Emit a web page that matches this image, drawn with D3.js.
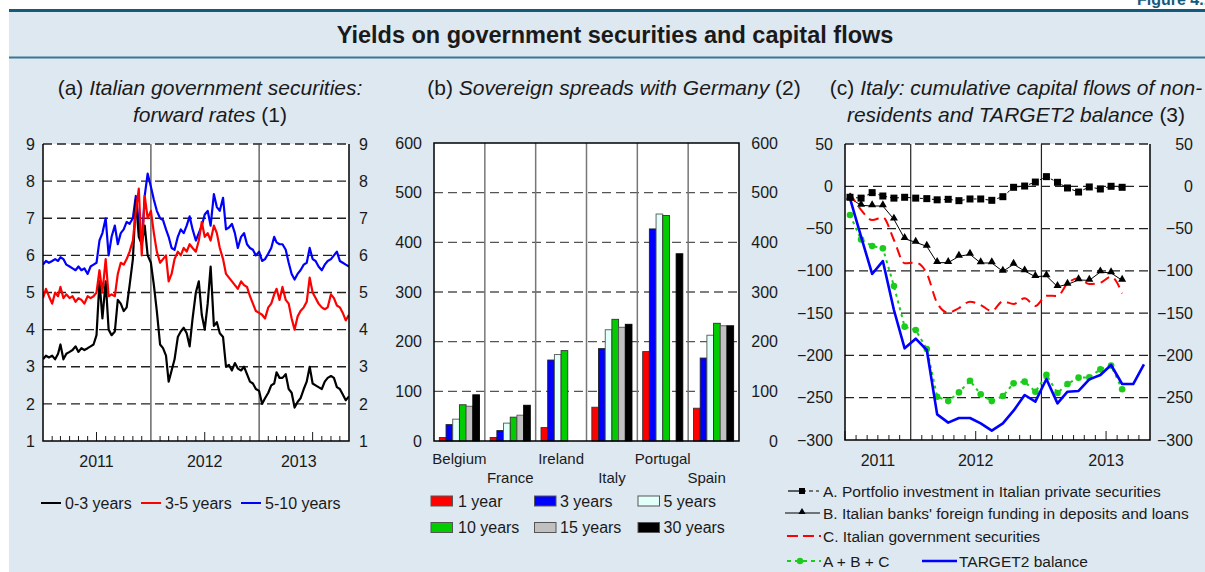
<!DOCTYPE html>
<html>
<head>
<meta charset="utf-8">
<script src="https://cdn.jsdelivr.net/npm/d3@7"></script>
<style>
  body { margin: 0; background: #fff; }
  svg { display: block; font-family: "Liberation Sans", Arial, Helvetica, sans-serif; }
</style>
</head>
<body>
<svg id="chart" width="1205" height="572"></svg>
<script>
// ---------- (a) forward rates: three readings a month, Jan 2011 – Nov 2013 ----------
const rates0to3 = [
  3.2, 3.3, 3.25, 3.3, 3.2, 3.35, 3.6, 3.2, 3.35, 3.4, 3.45, 3.55,
  3.4, 3.5, 3.45, 3.5, 3.55, 3.6, 3.85, 5.3, 4.3, 5.3, 4.0, 3.85,
  3.95, 4.8, 4.7, 4.5, 4.6, 5.2, 5.9, 7.5, 6.5, 6.3, 6.8, 6.0,
  5.8, 5.2, 4.5, 3.6, 3.5, 3.3, 2.6, 2.9, 3.2, 3.8, 3.95, 4.05,
  3.9, 3.55, 4.3, 5.0, 5.3, 4.4, 4.0, 4.7, 5.7, 4.1, 4.2, 3.9,
  3.8, 3.0, 3.05, 2.9, 3.1, 2.95, 2.9, 3.0, 2.8, 2.6, 2.55, 2.4,
  2.35, 2.0, 2.15, 2.3, 2.5, 2.55, 2.85, 2.7, 2.7, 2.8, 2.4, 2.3,
  1.9, 2.05, 2.15, 2.4, 2.6, 3.0, 2.55, 2.5, 2.45, 2.4, 2.6, 2.7,
  2.75, 2.7, 2.45, 2.4, 2.25, 2.1, 2.2
];
const rates3to5 = [
  4.85, 5.1, 4.9, 4.7, 5.0, 4.9, 5.15, 4.85, 4.95, 4.85, 4.9, 4.75,
  4.85, 4.8, 4.7, 4.9, 4.85, 4.9, 5.0, 5.6, 5.0, 5.9, 4.9, 4.95,
  4.9, 5.5, 5.8, 5.75, 5.9, 6.1, 6.4, 7.2, 7.8, 6.0, 7.6, 7.0,
  7.2, 6.6, 6.1, 5.8, 5.9, 6.0, 5.3, 5.5, 5.9, 6.1, 6.0, 6.2,
  6.1, 6.3, 6.2, 6.1, 6.4, 6.9, 6.5, 6.6, 6.4, 6.8, 6.6, 6.2,
  5.9, 5.5, 5.4, 5.3, 5.2, 5.1, 5.3, 5.2, 5.15, 4.9, 4.7, 4.5,
  4.45, 4.4, 4.3, 4.6, 4.7, 4.95, 5.1, 4.8, 5.15, 4.8, 4.7, 4.3,
  4.0, 4.35, 4.5, 4.6, 4.75, 5.4, 5.0, 4.85, 4.7, 4.6, 4.55, 4.6,
  4.95, 4.85, 4.65, 4.6, 4.45, 4.25, 4.4
];
const rates5to10 = [
  5.75, 5.85, 5.8, 5.85, 5.9, 5.85, 5.95, 5.9, 5.75, 5.7, 5.65, 5.6,
  5.7, 5.6, 5.65, 5.5, 5.7, 5.75, 5.8, 6.4, 6.6, 7.0, 6.0, 6.5,
  6.8, 6.3, 6.6, 6.7, 6.9, 6.85, 7.0, 7.6, 6.9, 6.3, 7.6, 8.2,
  7.85, 7.5, 7.2, 7.0, 6.95, 6.7, 6.5, 6.2, 6.15, 6.5, 6.7, 6.6,
  6.8, 7.05, 6.7, 6.4, 6.6, 6.8, 7.1, 7.2, 6.8, 7.65, 7.3, 7.2,
  7.55, 6.7, 6.75, 6.85, 6.6, 6.2, 6.5, 6.6, 6.3, 6.2, 6.15, 6.0,
  6.1, 5.85, 5.9, 6.05, 6.2, 6.5, 6.35, 6.3, 6.3, 6.15, 5.8, 5.5,
  5.35, 5.5, 5.6, 5.75, 5.8, 6.2, 5.9, 5.85, 5.7, 5.6, 5.75, 5.85,
  5.9, 6.0, 6.1, 5.85, 5.8, 5.75, 5.7
];
const rateTicks = [1, 2, 3, 4, 5, 6, 7, 8, 9];
const rateLegend = ["0-3 years", "3-5 years", "5-10 years"];

// ---------- (b) sovereign spreads with Germany (basis points) ----------
const countries = ["Belgium", "France", "Ireland", "Italy", "Portugal", "Spain"];
const maturities = ["1 year", "3 years", "5 years", "10 years", "15 years", "30 years"];
const spread1y  = [7, 7, 27, 68, 180, 66];
const spread3y  = [33, 21, 163, 186, 427, 167];
const spread5y  = [44, 36, 174, 224, 457, 213];
const spread10y = [73, 48, 182, 245, 454, 237];
const spread15y = [70, 52, null, 229, null, 232];
const spread30y = [93, 72, null, 235, 377, 232];
const spreadTicks = [0, 100, 200, 300, 400, 500, 600];

// ---------- (c) cumulative capital flows of non-residents (billions of euros) ----------
const flowMonths = [
  "2011-07", "2011-08", "2011-09", "2011-10", "2011-11", "2011-12",
  "2012-01", "2012-02", "2012-03", "2012-04", "2012-05", "2012-06",
  "2012-07", "2012-08", "2012-09", "2012-10", "2012-11", "2012-12",
  "2013-01", "2013-02", "2013-03", "2013-04", "2013-05", "2013-06",
  "2013-07", "2013-08", "2013-09", "2013-10"
];
const portfolioA = [-13, -14, -7.5, -11.5, -14, -13, -14, -14.6, -16, -15.4, -17, -15, -15,
  -16.6, -12.3, -1.2, 0.3, 5, 11.4, 4.7, -2, -6.8, -0.8, -3.2, 0, -1.2];
const banksB = [-14, -22.5, -23.3, -23.3, -39, -62, -66.3, -71, -90.3, -90.3, -82.8, -80.5, -90.7,
  -90.7, -100.6, -92.3, -100.2, -106.9, -106, -118.7, -116, -110.8, -111.2, -101.4, -102.5, -111.2];
const govtC = [-8.3, -28, -40, -36.7, -63.5, -91, -90.3, -103, -138, -149.4, -144, -136.4, -140.4,
  -147.5, -136, -139.2, -132.5, -141.6, -129.3, -129.7, -114.8, -108.8, -115.6, -114, -106.9, -126.6];
const sumABC = [-34, -63, -70.6, -73.4, -118, -166, -170, -192.4, -248.8, -254, -243.7, -230, -246,
  -254, -248, -233, -231, -243, -223, -244.4, -233.8, -226.3, -226, -216.5, -212, -240];
const target2 = [-14.2, -59.6, -103.7, -88.4, -146.3, -191.6, -180.2, -193.6, -269.7, -279.5, -274, -274,
  -280.3, -289, -280.3, -265.3, -246.8, -254.7, -227.9, -256.7, -242.9, -242, -228.3, -223.2,
  -211.3, -233.8, -233.8, -210.5];
const flowTicks = [-300, -250, -200, -150, -100, -50, 0, 50];

// ---------- shared styling ----------
const ink = "#1a1a1a";
const svg = d3.select("#chart");

svg.append("rect").attr("width", 1205).attr("height", 572).attr("fill", "#fff");
svg.append("rect").attr("x", 9).attr("y", 10).attr("width", 1196).attr("height", 562).attr("fill", "#dde8f1");
svg.append("line").attr("x1", 9).attr("x2", 1205).attr("y1", 10.5).attr("y2", 10.5)
  .attr("stroke", "#135a7b").attr("stroke-width", 3);
svg.append("line").attr("x1", 9).attr("x2", 1205).attr("y1", 57.5).attr("y2", 57.5)
  .attr("stroke", "#3a7696").attr("stroke-width", 2);
svg.append("text").attr("x", 1137).attr("y", 5).attr("font-size", 16).attr("font-weight", "bold")
  .attr("fill", "#135a7b").text("Figure 4.1");
svg.append("text").attr("x", 615).attr("y", 43).attr("text-anchor", "middle")
  .attr("font-size", 23.5).attr("font-weight", "bold").attr("fill", ink)
  .text("Yields on government securities and capital flows");

function titleLine(x, y, parts) {
  const t = svg.append("text").attr("x", x).attr("y", y).attr("text-anchor", "middle")
    .attr("font-size", 21).attr("fill", ink);
  parts.forEach(([s, it]) => t.append("tspan").attr("font-style", it ? "italic" : "normal").text(s));
}
titleLine(210, 95, [["(a) ", false], ["Italian government securities:", true]]);
titleLine(210, 122, [["forward rates", true], [" (1)", false]]);
titleLine(614, 95, [["(b) ", false], ["Sovereign spreads with Germany", true], [" (2)", false]]);
titleLine(1016, 95, [["(c) ", false], ["Italy: cumulative capital flows of non-", true]]);
titleLine(1016, 122, [["residents and TARGET2 balance", true], [" (3)", false]]);

// numeric labels on both sides of a panel
function sideLabels(scale, ticks, xEnd, fmt) {
  svg.append("g").attr("transform", `translate(${xEnd},0)`)
    .call(d3.axisLeft(scale).tickValues(ticks).tickSize(0).tickPadding(0).tickFormat(fmt || d3.format("d")))
    .call(g => g.select(".domain").remove())
    .call(g => g.selectAll("text").attr("font-size", 16).attr("fill", ink)
      .attr("font-family", "Liberation Sans, Arial, sans-serif"));
}

// horizontal dashed grid
function grid(g, scale, ticks, x0, x1, color) {
  g.selectAll(null).data(ticks).join("line")
    .attr("x1", x0).attr("x2", x1)
    .attr("y1", d => scale(d)).attr("y2", d => scale(d))
    .attr("stroke", color).attr("stroke-width", 1.3).attr("stroke-dasharray", "9,5");
}

// monthly tick marks along the bottom edge, longer in July, none where a year line sits
function monthTicks(g, scale, y) {
  const months = d3.timeMonth.range(scale.domain()[0], scale.domain()[1]).filter(d => d.getMonth() !== 0);
  g.selectAll(null).data(months).join("line")
    .attr("x1", d => scale(d)).attr("x2", d => scale(d))
    .attr("y1", y).attr("y2", d => y - (d.getMonth() === 6 ? 9 : 5))
    .attr("stroke", ink).attr("stroke-width", 1);
}

function yearLines(g, scale, years, y0, y1, color) {
  g.selectAll(null).data(years).join("line")
    .attr("x1", d => scale(d)).attr("x2", d => scale(d))
    .attr("y1", y0).attr("y2", y1).attr("stroke", color).attr("stroke-width", 1.2);
}

// ================= Panel (a) =================
{
  const L = 43, R = 349, T = 144, B = 441;
  const rateDates = rates0to3.map((_, i) => new Date(2011, Math.floor(i / 3), 1 + 10 * (i % 3)));
  const x = d3.scaleTime().domain([new Date(2011, 0, 1), new Date(2013, 10, 1)]).range([L, R]);
  const y = d3.scaleLinear().domain([1, 9]).range([B, T]);
  const g = svg.append("g");
  g.append("rect").attr("x", L).attr("y", T).attr("width", R - L).attr("height", B - T).attr("fill", "#fff");
  grid(g, y, rateTicks.slice(1), L, R, "#222");
  yearLines(g, x, [new Date(2012, 0, 1), new Date(2013, 0, 1)], T, B, "#444");
  monthTicks(g, x, B);

  g.append("clipPath").attr("id", "clipA").append("rect")
    .attr("x", L).attr("y", T).attr("width", R - L).attr("height", B - T);
  const line = d3.line().x((d, i) => x(rateDates[i])).y(d => y(d));
  [[rates5to10, "#0000ff"], [rates0to3, "#000"], [rates3to5, "#ff0000"]].forEach(([s, c]) => {
    g.append("path").attr("clip-path", "url(#clipA)").attr("d", line(s))
      .attr("fill", "none").attr("stroke", c).attr("stroke-width", 2.2).attr("stroke-linejoin", "round");
  });
  g.append("path").attr("d", `M${L},${T}V${B}H${R}V${T}`).attr("fill", "none").attr("stroke", "#000").attr("stroke-width", 1.5);

  sideLabels(y, rateTicks, 35);
  sideLabels(y, rateTicks, 368);

  const yearLabels = [["2011", new Date(2011, 6, 1)], ["2012", new Date(2012, 6, 1)], ["2013", new Date(2013, 4, 15)]];
  g.selectAll(null).data(yearLabels).join("text")
    .attr("x", d => x(d[1])).attr("y", 467).attr("text-anchor", "middle")
    .attr("font-size", 16).attr("fill", ink).text(d => d[0]);

  const leg = g.selectAll(null).data(rateLegend).join("g")
    .attr("transform", (d, i) => `translate(${41 + i * 100},503)`);
  leg.append("line").attr("x1", 0).attr("x2", 20).attr("stroke", (d, i) => ["#000", "#ff0000", "#0000ff"][i]).attr("stroke-width", 2);
  leg.append("text").attr("x", 24).attr("y", 5.5).attr("font-size", 16).attr("fill", ink).text(d => d);
}

// ================= Panel (b) =================
{
  const L = 434, R = 739, T = 143, B = 441;
  const fills = ["#ff0000", "#0000ff", "#e2fffa", "#00cc00", "#c0c0c0", "#000000"];
  const strokes = ["#333", "#222", "#555", "#333", "#555", "#000"];
  const series = [spread1y, spread3y, spread5y, spread10y, spread15y, spread30y];
  const x = d3.scaleBand().domain(countries).range([L, R]);
  const xm = d3.scaleBand().domain(maturities).range([0, x.bandwidth()]).paddingOuter(0.8);
  const y = d3.scaleLinear().domain([0, 600]).range([B, T]);
  const g = svg.append("g");
  g.append("rect").attr("x", L).attr("y", T).attr("width", R - L).attr("height", B - T).attr("fill", "#fff");
  grid(g, y, spreadTicks.slice(1, -1), L, R, "#555");
  g.selectAll(null).data(countries.slice(1)).join("line")
    .attr("x1", d => x(d)).attr("x2", d => x(d)).attr("y1", T).attr("y2", B)
    .attr("stroke", "#777").attr("stroke-width", 1.5);

  const cells = [];
  countries.forEach((c, ci) => maturities.forEach((m, mi) => {
    if (series[mi][ci] != null) cells.push({ c, m, mi, v: series[mi][ci] });
  }));
  g.selectAll(null).data(cells).join("rect")
    .attr("x", d => x(d.c) + xm(d.m)).attr("width", xm.bandwidth())
    .attr("y", d => y(d.v)).attr("height", d => y(0) - y(d.v))
    .attr("fill", d => fills[d.mi]).attr("stroke", d => strokes[d.mi]).attr("stroke-width", 0.9);

  g.append("rect").attr("x", L).attr("y", T).attr("width", R - L).attr("height", B - T)
    .attr("fill", "none").attr("stroke", "#000").attr("stroke-width", 1.5);

  sideLabels(y, spreadTicks, 422);
  sideLabels(y, spreadTicks, 778);

  g.selectAll(null).data(countries).join("text")
    .attr("x", (d, i) => x(d) + x.bandwidth() / 2 - (i === 5 ? 7 : 0))
    .attr("y", (d, i) => i % 2 === 0 ? 463.5 : 482.5)
    .attr("text-anchor", "middle").attr("font-size", 15).attr("fill", ink).text(d => d);

  const leg = g.selectAll(null).data(maturities).join("g")
    .attr("transform", (d, i) => `translate(${431 + (i % 3) * 103.5},${i < 3 ? 496 : 522.5})`);
  leg.append("rect").attr("width", 21.5).attr("height", 10)
    .attr("fill", (d, i) => fills[i]).attr("stroke", "#555").attr("stroke-width", 1);
  leg.append("text").attr("x", (d, i) => i % 3 === 0 ? 27 : 25.5).attr("y", 10.5)
    .attr("font-size", 16).attr("fill", ink).text(d => d);
}

// ================= Panel (c) =================
{
  const L = 845, R = 1150, T = 144, B = 440;
  const parse = d3.timeParse("%Y-%m");
  const dates = flowMonths.map(m => d3.timeDay.offset(parse(m), 14));
  const x = d3.scaleTime().domain([new Date(2011, 6, 1), new Date(2013, 10, 1)]).range([L, R]);
  const y = d3.scaleLinear().domain([-300, 50]).range([B, T]);
  const g = svg.append("g");
  g.append("rect").attr("x", L).attr("y", T).attr("width", R - L).attr("height", B - T).attr("fill", "#fff");
  grid(g, y, flowTicks.slice(1), L, R, "#222");
  yearLines(g, x, [new Date(2012, 0, 1), new Date(2013, 0, 1)], T, B, "#222");
  monthTicks(g, x, B);

  const line = d3.line().x((d, i) => x(dates[i])).y(d => y(d));

  g.append("path").attr("d", line(portfolioA)).attr("fill", "none")
    .attr("stroke", "#000").attr("stroke-width", 1).attr("stroke-dasharray", "3,3");
  g.append("path").attr("d", line(banksB)).attr("fill", "none")
    .attr("stroke", "#000").attr("stroke-width", 1);
  g.append("path").attr("d", line.curve(d3.curveMonotoneX)(govtC)).attr("fill", "none")
    .attr("stroke", "#ff0000").attr("stroke-width", 2).attr("stroke-dasharray", "10,6");
  line.curve(d3.curveLinear);
  g.append("path").attr("d", line(sumABC)).attr("fill", "none")
    .attr("stroke", "#1ccc1c").attr("stroke-width", 2).attr("stroke-dasharray", "3,4");
  g.selectAll(null).data(sumABC).join("circle")
    .attr("cx", (d, i) => x(dates[i])).attr("cy", d => y(d)).attr("r", 3.3).attr("fill", "#1ccc1c");
  g.append("path").attr("d", line(target2)).attr("fill", "none")
    .attr("stroke", "#0000ff").attr("stroke-width", 2.6).attr("stroke-linejoin", "round");

  const tri = d3.symbol().type(d3.symbolTriangle).size(28);
  g.selectAll(null).data(banksB).join("path")
    .attr("transform", (d, i) => `translate(${x(dates[i])},${y(d) - 1})`).attr("d", tri()).attr("fill", "#000");
  g.selectAll(null).data(portfolioA).join("rect")
    .attr("x", (d, i) => x(dates[i]) - 3.5).attr("y", d => y(d) - 3.5)
    .attr("width", 7).attr("height", 7).attr("fill", "#000");

  g.append("path").attr("d", `M${L},${T}V${B}H${R}V${T}`).attr("fill", "none").attr("stroke", "#000").attr("stroke-width", 1.5);

  sideLabels(y, flowTicks, 833);
  sideLabels(y, flowTicks, 1193);

  const yearLabels = [["2011", new Date(2011, 9, 1)], ["2012", new Date(2012, 6, 1)], ["2013", new Date(2013, 6, 1)]];
  g.selectAll(null).data(yearLabels).join("text")
    .attr("x", d => x(d[1])).attr("y", 466).attr("text-anchor", "middle")
    .attr("font-size", 16).attr("fill", ink).text(d => d[0]);

  // legend
  const lg = g.append("g");
  const rows = [491, 513, 536, 561];
  const lx = 823;
  lg.append("line").attr("x1", 788).attr("x2", 802).attr("y1", rows[0]).attr("y2", rows[0]).attr("stroke", "#000").attr("stroke-width", 1.2);
  lg.append("line").attr("x1", 802).attr("x2", 819).attr("y1", rows[0]).attr("y2", rows[0]).attr("stroke", "#000").attr("stroke-width", 1.2).attr("stroke-dasharray", "4,3");
  lg.append("rect").attr("x", 799).attr("y", rows[0] - 3).attr("width", 6).attr("height", 6).attr("fill", "#000");
  lg.append("line").attr("x1", 785).attr("x2", 820).attr("y1", rows[1]).attr("y2", rows[1]).attr("stroke", "#000").attr("stroke-width", 1.2);
  lg.append("path").attr("transform", `translate(802,${rows[1] - 1})`).attr("d", d3.symbol().type(d3.symbolTriangle).size(22)()).attr("fill", "#000");
  lg.append("line").attr("x1", 787).attr("x2", 821).attr("y1", rows[2]).attr("y2", rows[2]).attr("stroke", "#ff0000").attr("stroke-width", 2).attr("stroke-dasharray", "11,5");
  lg.append("line").attr("x1", 787).attr("x2", 821).attr("y1", rows[3]).attr("y2", rows[3]).attr("stroke", "#1ccc1c").attr("stroke-width", 2).attr("stroke-dasharray", "4,4");
  lg.append("circle").attr("cx", 800).attr("cy", rows[3]).attr("r", 3.2).attr("fill", "#1ccc1c");
  lg.append("line").attr("x1", 922).attr("x2", 957).attr("y1", rows[3]).attr("y2", rows[3]).attr("stroke", "#0000ff").attr("stroke-width", 2.6);
  const texts = [
    [lx, rows[0], "A. Portfolio investment in Italian private securities"],
    [lx, rows[1], "B. Italian banks' foreign funding in deposits and loans"],
    [lx, rows[2], "C. Italian government securities"],
    [lx, rows[3], "A + B + C"],
    [959, rows[3], "TARGET2 balance"]
  ];
  lg.selectAll(null).data(texts).join("text")
    .attr("x", d => d[0]).attr("y", d => d[1] + 5.5)
    .attr("font-size", 15.5).attr("fill", ink).text(d => d[2]);
}
</script>
</body>
</html>
